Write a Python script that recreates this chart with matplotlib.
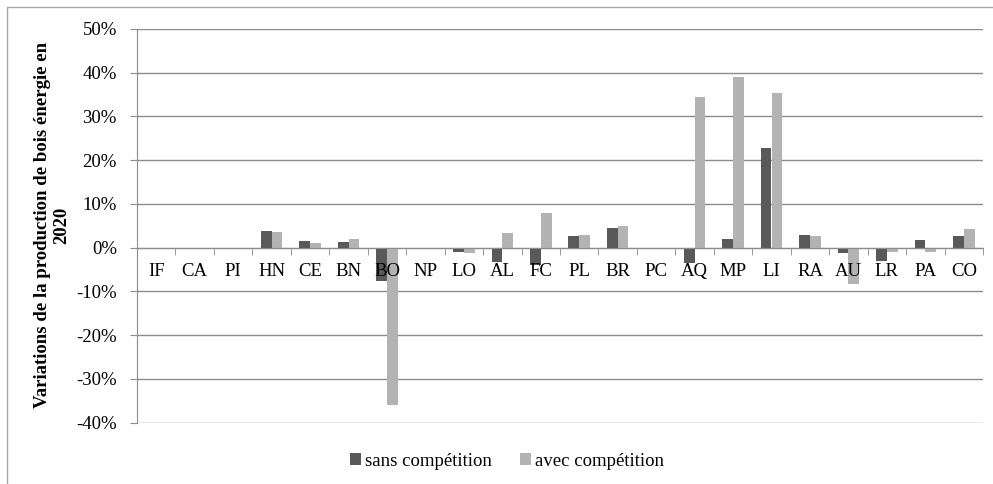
import matplotlib
matplotlib.use('Agg')
import numpy as np
import matplotlib.pyplot as plt
from matplotlib.patches import Rectangle, Patch
from matplotlib.ticker import PercentFormatter, FixedLocator

plt.rcParams['font.family'] = ['Liberation Serif', 'DejaVu Serif']
plt.rcParams['axes.unicode_minus'] = False

# regions
regions = ['IF', 'CA', 'PI', 'HN', 'CE', 'BN', 'BO', 'NP', 'LO', 'AL', 'FC',
           'PL', 'BR', 'PC', 'AQ', 'MP', 'LI', 'RA', 'AU', 'LR', 'PA', 'CO']
# variations in %
sans_comp = [0, 0, 0, 3.8, 1.5, 1.3, -7.6, 0, -1.0, -3.3, -4.0,
             2.7, 4.6, 0.0, -3.4, 2.1, 22.7, 2.9, -1.2, -3.0, 1.7, 2.7]
avec_comp = [0, 0, 0, 3.7, 1.1, 2.1, -36.0, 0, -1.1, 3.3, 8.0,
             3.0, 5.0, -0.4, 34.4, 39.1, 35.3, 2.7, -8.4, -1.0, -0.9, 4.3]
legend_labels = ['sans compétition', 'avec compétition']

dark = '#595959'
light = '#b3b3b3'
grid_col = '#8c8c8c'
fs = 13.5

fig = plt.figure(figsize=(9.93, 4.84), dpi=100)
ax = fig.add_axes([137/993, 1-422.7/484, (983-137)/993, (422.7-29)/484])

x = np.arange(len(regions))
w = 0.28
ax.bar(x - w/2, sans_comp, w, color=dark, zorder=3)
ax.bar(x + w/2, avec_comp, w, color=light, zorder=3)

ax.set_xlim(-0.5, len(regions) - 0.5)
ax.set_ylim(-40, 50)
ax.set_yticks(np.arange(-40, 51, 10))
ax.yaxis.set_major_formatter(PercentFormatter(decimals=0))
ax.grid(axis='y', color=grid_col, linewidth=1.0, zorder=0)
ax.set_axisbelow(True)

for s in ['top', 'right']:
    ax.spines[s].set_visible(False)
ax.spines['left'].set_color(grid_col)
ax.spines['bottom'].set_position(('data', 0))
ax.spines['bottom'].set_color(grid_col)
ax.spines['bottom'].set_zorder(4)

ax.tick_params(axis='y', length=5, color=grid_col, labelsize=fs, pad=9.5)
ax.set_xticks(x)
ax.set_xticklabels([])
ax.xaxis.set_minor_locator(FixedLocator(np.arange(len(regions) + 1) - 0.5))
ax.tick_params(axis='x', which='major', length=0)
ax.tick_params(axis='x', which='minor', length=5, color=grid_col, direction='out')

# category labels drawn above the bars
for xi, lbl in zip(x, regions):
    ax.annotate(lbl, (xi, 0), xytext=(0, -11), textcoords='offset points',
                ha='center', va='top', fontsize=fs, zorder=6)

fig.text(52/993, 1-225/484,
         'Variations de la production de bois énergie en\n2020',
         rotation=90, ha='center', va='center', multialignment='center',
         fontsize=fs, fontweight='bold', linespacing=1.15)

handles = [Patch(facecolor=dark), Patch(facecolor=light)]
fig.legend(handles, legend_labels, loc='center', bbox_to_anchor=(507/993, 1-461/484),
           ncol=2, frameon=False, fontsize=fs, handlelength=0.6, handleheight=0.6,
           handletextpad=0.2, columnspacing=1.5)

frame = Rectangle((7/993, -0.1), 1.2, 1-7/484+0.1, transform=fig.transFigure,
                  fill=False, edgecolor='#a6a6a6', linewidth=1.0, clip_on=False)
fig.patches.append(frame)

fig.savefig('out.png', dpi=100)
